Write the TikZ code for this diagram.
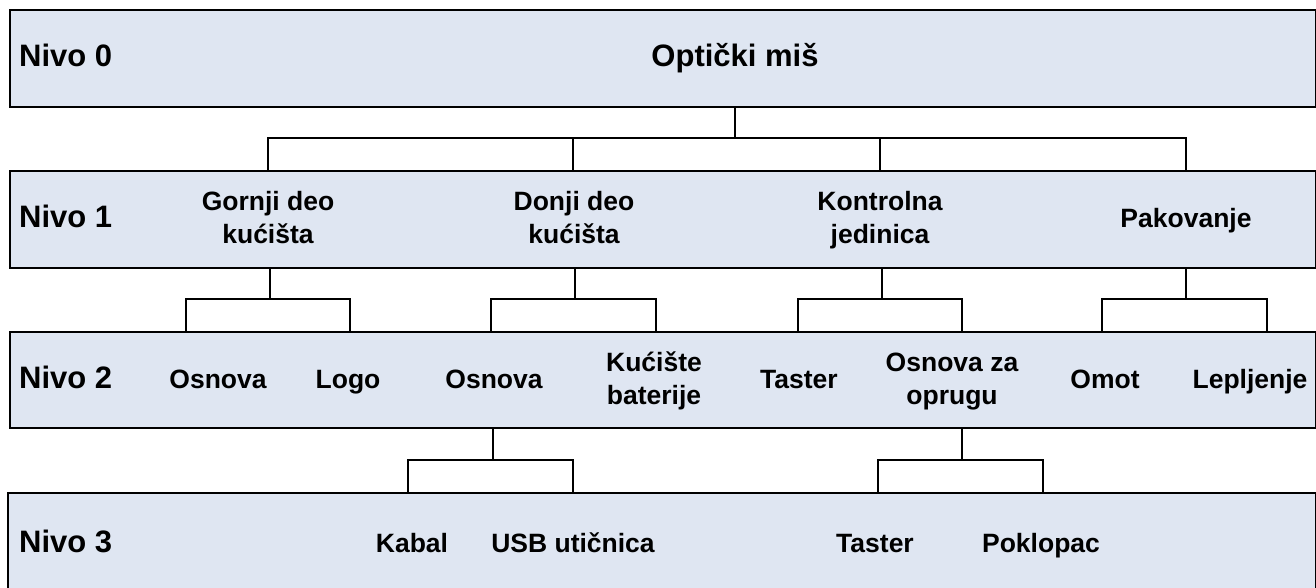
\documentclass[tikz,border=0pt]{standalone}
\usepackage{fontspec}
\setmainfont{Liberation Sans}
\definecolor{boxfill}{RGB}{223,230,242}
\newcommand{\lst}{\rule[-7pt]{0pt}{32pt}}
\begin{document}
\begin{tikzpicture}[x=1pt,y=-1pt,
  levelbox/.style={draw=black, fill=boxfill, line width=2pt, inner sep=0pt, anchor=north west, minimum width=1306pt},
  lvl/.style={font=\fontsize{31}{33}\selectfont\bfseries, anchor=west, inner sep=0pt},
  item/.style={font=\fontsize{26.5}{33}\selectfont\bfseries, align=center, inner sep=0pt},
  conn/.style={draw=black, line width=2pt}]
\useasboundingbox (0,0) rectangle (1316,587);
\fill[white] (0,0) rectangle (1316,587);
\begin{scope}
\clip (0,0) rectangle (1316,587);
\node[levelbox, minimum height=97pt] (B0) at (9,9) {};
\node[levelbox, minimum height=97pt] (B1) at (9,170) {};
\node[levelbox, minimum height=96pt] (B2) at (9,331) {};
\node[levelbox, minimum height=120pt, minimum width=1308pt] (B3) at (7,492) {};
\end{scope}

% level labels
\node[lvl] (n0) at (19,57) {Nivo 0\lst};
\node[lvl] (n1) at (19,218) {Nivo 1\lst};
\node[lvl] (n2) at (19,379) {Nivo 2\lst};
\node[lvl] (n3) at (19,543) {Nivo 3\lst};

% items
\node[item, font=\fontsize{31}{33}\selectfont\bfseries] (root) at (735,57) {Optički miš\lst};
\node[item] (gornji) at (268,218) {Gornji deo\lst\\kućišta\lst};
\node[item] (donji) at (574,218) {Donji deo\lst\\kućišta\lst};
\node[item] (kontrolna) at (880,218) {Kontrolna\lst\\jedinica\lst};
\node[item] (pakovanje) at (1186,218) {Pakovanje\lst};

\node[item] (osnova1) at (218,379) {Osnova\lst};
\node[item] (logo) at (348,379) {Logo\lst};
\node[item] (osnova2) at (494,379) {Osnova\lst};
\node[item] (baterije) at (654,379) {Kućište\lst\\baterije\lst};
\node[item] (taster1) at (799,379) {Taster\lst};
\node[item] (opruga) at (952,379) {Osnova za\lst\\oprugu\lst};
\node[item] (omot) at (1105,379) {Omot\lst};
\node[item] (lepljenje) at (1250,379) {Lepljenje\lst};

\node[item] (kabal) at (412,543) {Kabal\lst};
\node[item] (usb) at (573,543) {USB utičnica\lst};
\node[item] (taster2) at (875,543) {Taster\lst};
\node[item] (poklopac) at (1041,543) {Poklopac\lst};

% bus levels and stem positions
\coordinate (y01) at (0,138);
\coordinate (y12) at (0,299);
\coordinate (y23) at (0,460);
\coordinate (s0) at (735,0);
\coordinate (a1) at (268,0);
\coordinate (a2) at (573,0);
\coordinate (a3) at (880,0);
\coordinate (a4) at (1186,0);
\coordinate (s1) at (270,0);
\coordinate (s2) at (575,0);
\coordinate (s3) at (882,0);
\coordinate (s4) at (1186,0);
\coordinate (b1) at (186,0);
\coordinate (b2) at (350,0);
\coordinate (b3) at (491,0);
\coordinate (b4) at (656,0);
\coordinate (b5) at (798,0);
\coordinate (b6) at (962,0);
\coordinate (b7) at (1102,0);
\coordinate (b8) at (1267,0);
\coordinate (t1) at (493,0);
\coordinate (t2) at (962,0);
\coordinate (c1) at (408,0);
\coordinate (c2) at (573,0);
\coordinate (c3) at (878,0);
\coordinate (c4) at (1043,0);

% level 0 -> 1
\draw[conn] (B0.south -| s0) -- (s0 |- y01);
\draw[conn] (B1.north -| a1) -- (a1 |- y01) -- (a4 |- y01) -- (B1.north -| a4);
\draw[conn] (B1.north -| a2) -- (a2 |- y01);
\draw[conn] (B1.north -| a3) -- (a3 |- y01);

% level 1 -> 2
\draw[conn] (B1.south -| s1) -- (s1 |- y12);
\draw[conn] (B2.north -| b1) -- (b1 |- y12) -- (b2 |- y12) -- (B2.north -| b2);
\draw[conn] (B1.south -| s2) -- (s2 |- y12);
\draw[conn] (B2.north -| b3) -- (b3 |- y12) -- (b4 |- y12) -- (B2.north -| b4);
\draw[conn] (B1.south -| s3) -- (s3 |- y12);
\draw[conn] (B2.north -| b5) -- (b5 |- y12) -- (b6 |- y12) -- (B2.north -| b6);
\draw[conn] (B1.south -| s4) -- (s4 |- y12);
\draw[conn] (B2.north -| b7) -- (b7 |- y12) -- (b8 |- y12) -- (B2.north -| b8);

% level 2 -> 3
\draw[conn] (B2.south -| t1) -- (t1 |- y23);
\draw[conn] (B3.north -| c1) -- (c1 |- y23) -- (c2 |- y23) -- (B3.north -| c2);
\draw[conn] (B2.south -| t2) -- (t2 |- y23);
\draw[conn] (B3.north -| c3) -- (c3 |- y23) -- (c4 |- y23) -- (B3.north -| c4);
\end{tikzpicture}
\end{document}
